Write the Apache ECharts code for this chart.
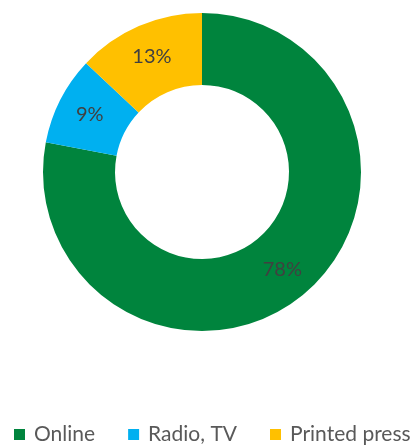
<!DOCTYPE html>
<html>
<head>
<meta charset="utf-8">
<script src="https://cdn.jsdelivr.net/npm/echarts@6/dist/echarts.min.js"></script>
<style>
  html, body { margin: 0; padding: 0; background: #ffffff; }
  #chart { width: 419px; height: 446px; }
</style>
</head>
<body>
<div id="chart"></div>
<script>
// Share of news sources
const categories = ['Online', 'Radio, TV', 'Printed press'];
const shares = [78, 9, 13];
const colors = ['#00843D', '#00B0F0', '#FFC000'];

const chart = echarts.init(document.getElementById('chart'), null, { renderer: 'canvas' });

chart.setOption({
  animation: false,
  color: colors,
  legend: {
    data: categories,
    top: 424,
    left: 14,
    padding: 0,
    itemWidth: 11,
    itemHeight: 11,
    itemGap: 33,
    icon: 'rect',
    textStyle: { fontFamily: 'Lato', fontSize: 21, color: '#595959', padding: [0, 0, 0, 4] }
  },
  series: [{
    type: 'pie',
    center: [202, 172],
    radius: [87, 159],
    startAngle: 90,
    clockwise: true,
    avoidLabelOverlap: false,
    itemStyle: { borderWidth: 0 },
    label: {
      show: true,
      position: 'inside',
      formatter: '{c}%',
      fontFamily: 'Lato',
      fontSize: 20,
      color: '#404040'
    },
    labelLine: { show: false },
    data: categories.map((name, i) => ({ name, value: shares[i] }))
  }]
});
</script>
</body>
</html>
